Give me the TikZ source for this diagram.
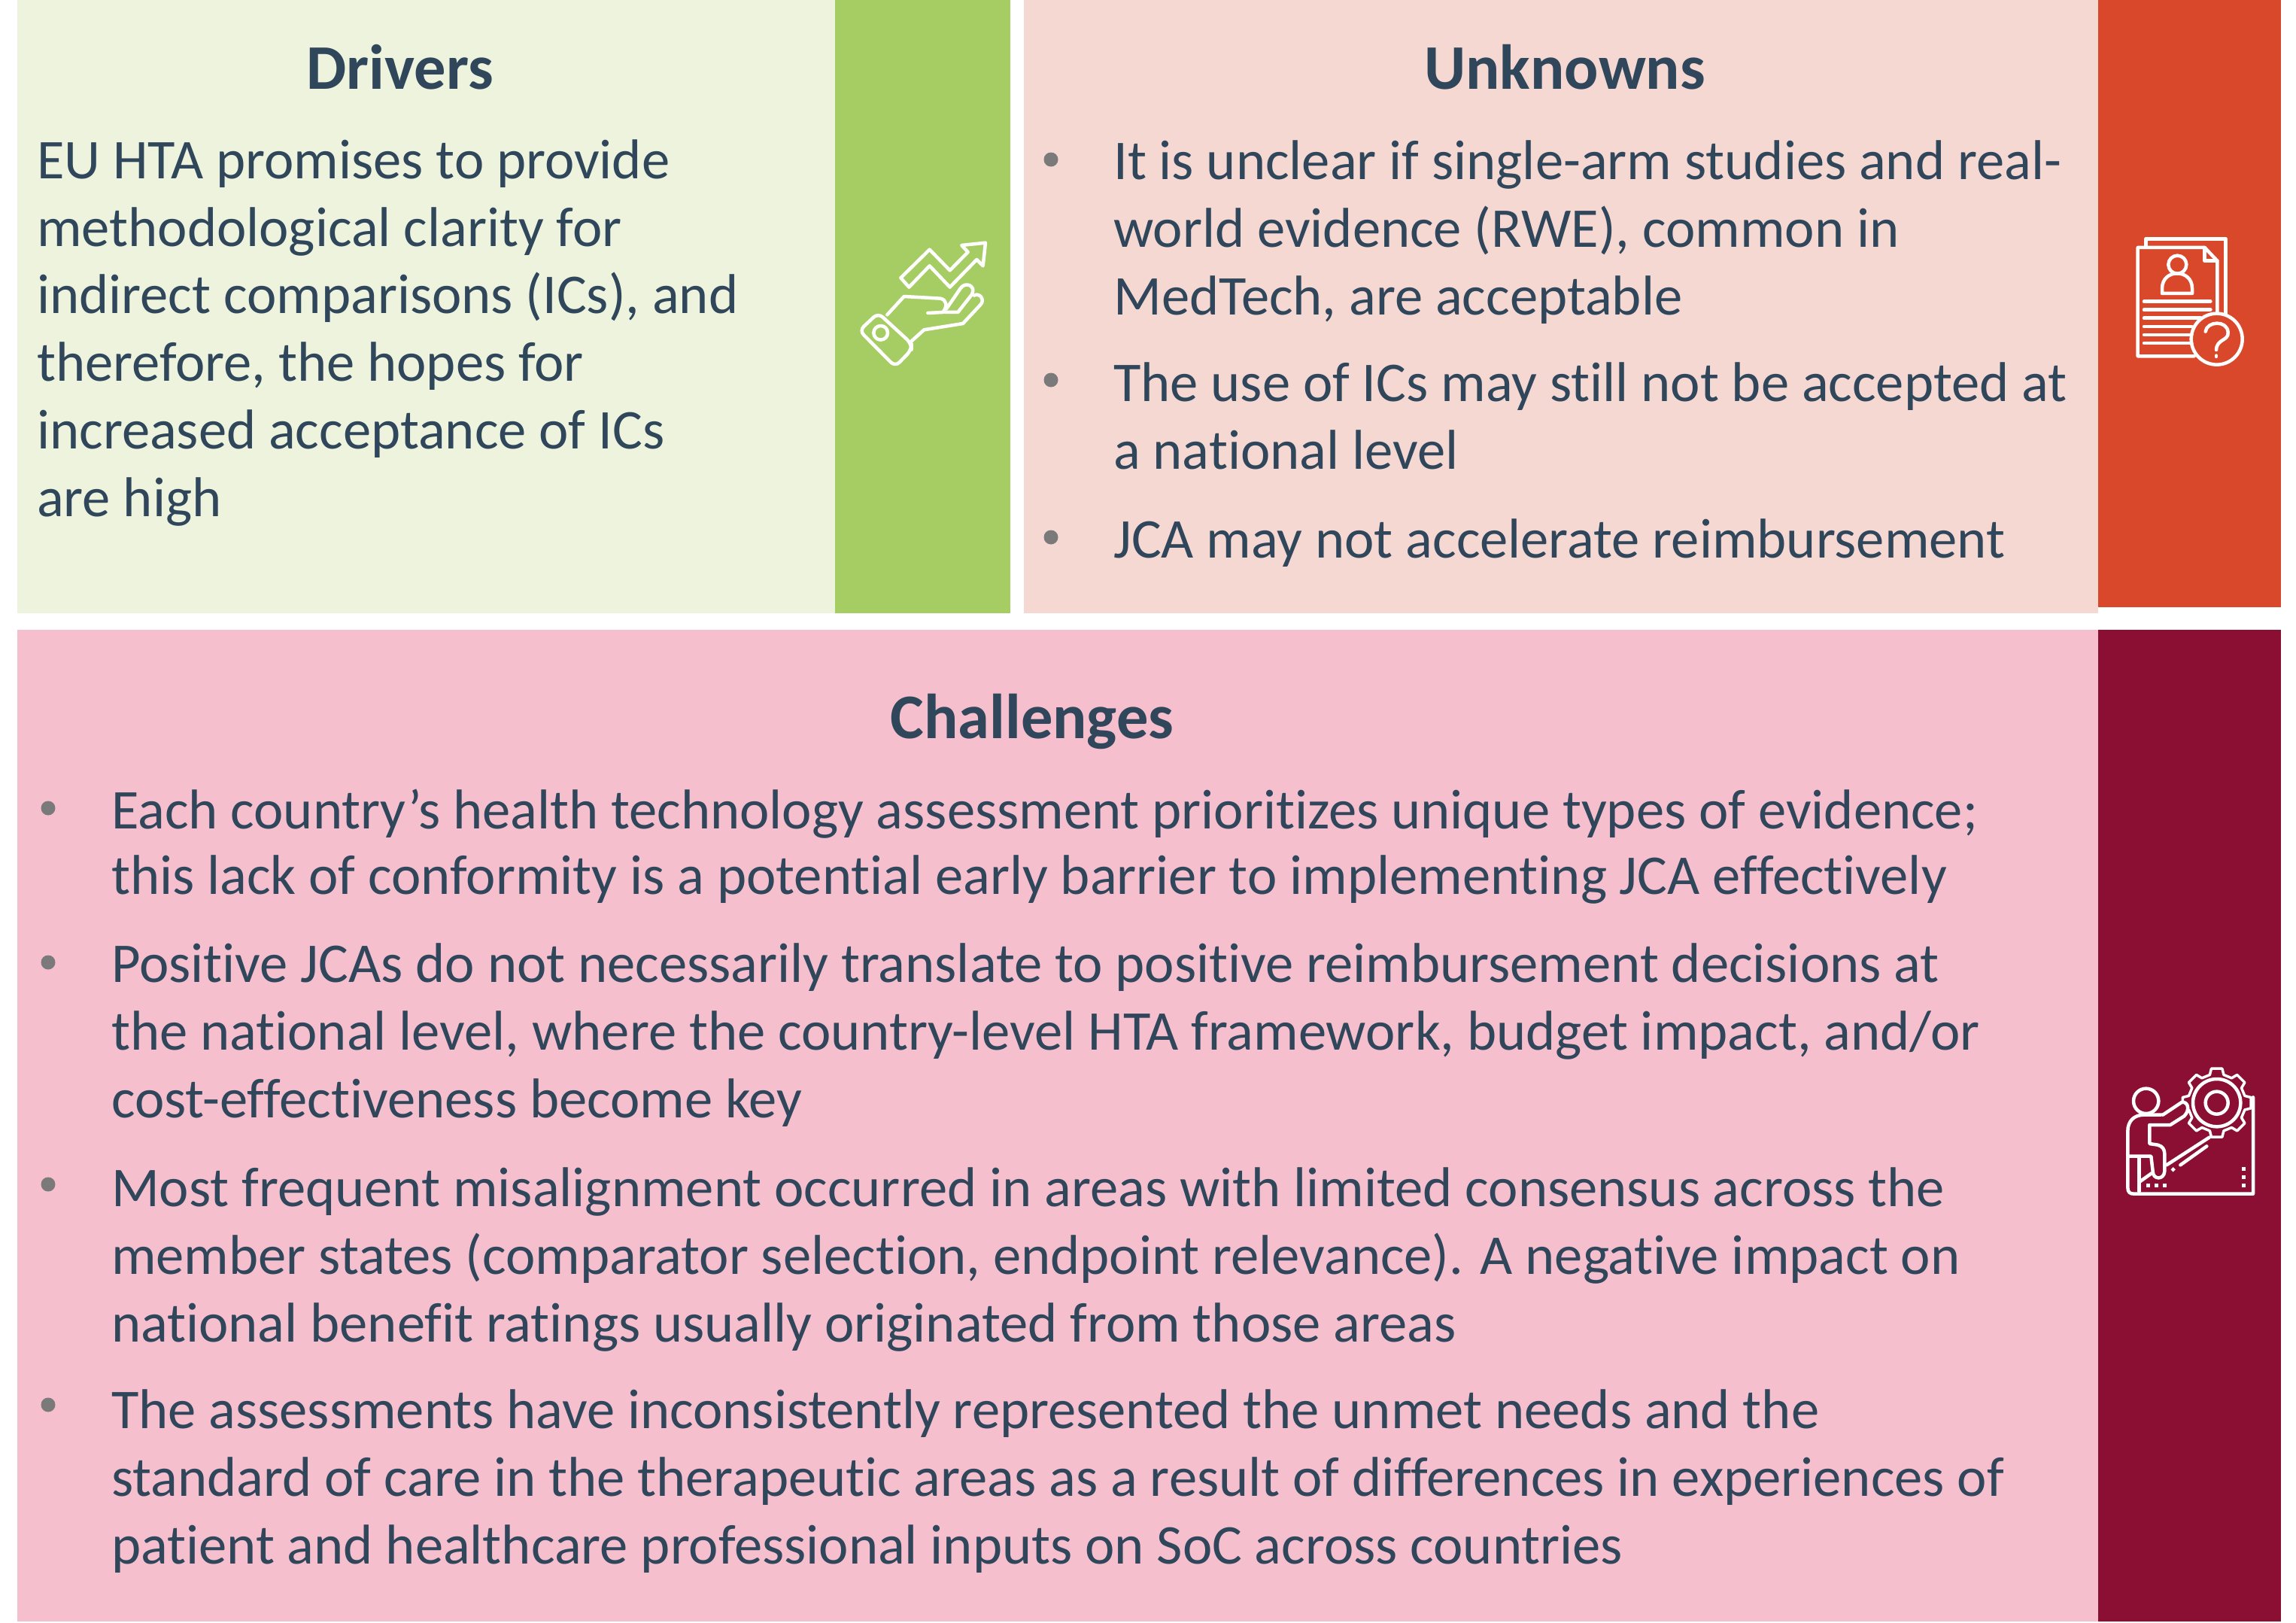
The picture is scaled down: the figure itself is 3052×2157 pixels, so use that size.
\documentclass[tikz,border=0pt]{standalone}
\usepackage{fontspec}
\setmainfont[Ligatures=NoCommon]{Carlito}
\usetikzlibrary{positioning}
\definecolor{txtcol}{HTML}{2F465B}
\definecolor{bulletcol}{HTML}{7A7A7A}
\definecolor{driverbg}{HTML}{EDF3DD}
\definecolor{driverbar}{HTML}{A6CD63}
\definecolor{unknownbg}{HTML}{F6D8D3}
\definecolor{unknownbar}{HTML}{D9482B}
\definecolor{challengebg}{HTML}{F6BFCD}
\definecolor{challengebar}{HTML}{8A0F32}
\tikzset{
  panel/.style={inner sep=0pt,outer sep=0pt,anchor=north west},
  head/.style={font=\fontsize{84.5}{84.5}\selectfont\bfseries,text=txtcol,inner sep=0pt,anchor=base},
  para/.style={font=\fontsize{74.6}{89.7}\selectfont,text=txtcol,inner sep=0pt,anchor=base west,align=left},
  dot/.style={circle,fill=bulletcol,inner sep=0pt,minimum size=19pt},
  icon/.style={draw=white,line width=4.5pt,line join=round,line cap=round},
  iconfill/.style={fill=white,inner sep=0pt},
}
\begin{document}
\begin{tikzpicture}[x=1pt,y=-1pt]
\useasboundingbox (0,0) rectangle (3052,2157);

% panels
\node (driverbg) at (23,0) [panel,fill=driverbg,minimum width=1087pt,minimum height=815pt] {};
\node (driverbar) at (1110,0) [panel,fill=driverbar,minimum width=233pt,minimum height=815pt] {};
\node (unknownbg) at (1361,0) [panel,fill=unknownbg,minimum width=1428pt,minimum height=815pt] {};
\node (unknownbar) at (2789,0) [panel,fill=unknownbar,minimum width=243pt,minimum height=807pt] {};
\node (challengebg) at (23,837) [panel,fill=challengebg,minimum width=2766pt,minimum height=1318pt] {};
\node (challengebar) at (2789,837) [panel,fill=challengebar,minimum width=243pt,minimum height=1318pt] {};

% drivers
\node (drivers) at (532,118) [head] {Drivers};
\node (drivertext) at (49,686) [para] {EU HTA promises to provide\\methodological clarity for\\indirect comparisons (ICs), and\\therefore, the hopes for\\increased acceptance of ICs\\are high};

% unknowns
\node (unknowns) at (2080,118) [head] {Unknowns};
\node (ubulleta) at (1397,212) [dot] {};
\node (utexta) at (1480,418) [para] {It is unclear if single-arm studies and real-\\world evidence (RWE), common in\\MedTech, are acceptable};
\node (ubulletb) at (1397,505) [dot] {};
\node (utextb) at (1480,623) [para] {The use of ICs may still not be accepted at\\a national level};
\node (ubulletc) at (1397,714) [dot] {};
\node (utextc) at (1480,741) [para] {JCA may not accelerate reimbursement};

% challenges
\node (challenges) at (1372,981) [head] {Challenges};
\node (cbulleta) at (64,1074) [dot] {};
\node (ctexta) at (148,1188) [para] {Each country’s health technology assessment prioritizes unique types of evidence;\\[-3pt]this lack of conformity is a potential early barrier to implementing JCA effectively};
\node (cbulletb) at (64,1279) [dot] {};
\node (ctextb) at (148,1485) [para] {Positive JCAs do not necessarily translate to positive reimbursement decisions at\\the national level, where the country-level HTA framework, budget impact, and/or\\cost-effectiveness become key};
\node (cbulletc) at (64,1574) [dot] {};
\node (ctextc) at (148,1783) [para] {Most frequent misalignment occurred in areas with limited consensus across the\\member states (comparator selection, endpoint relevance). A negative impact on\\national benefit ratings usually originated from those areas};
\node (cbulletd) at (64,1867) [dot] {};
\node (ctextd) at (148,2078) [para] {The assessments have inconsistently represented the unmet needs and the\\standard of care in the therapeutic areas as a result of differences in experiences of\\patient and healthcare professional inputs on SoC across countries};

% hand icon
\begin{scope}[shift={(1110,290)},x=0.3333pt,y=-0.3333pt]
  \draw[icon] (262,238) -- (377,125) -- (458,208) -- (530,135) -- (505,108) -- (600,98) -- (590,190) -- (565,165) -- (458,275) -- (377,190) -- (295,275) -- cycle;
  \draw[icon,rounded corners=8pt] (97,448) -- (172,378) -- (305,500) -- (305,525) -- (240,592) -- cycle;
  \draw[icon] (182,457) circle (28);
  \draw[icon] (208,385) -- (275,312) -- (420,320) .. controls (445,325) and (450,350) .. (430,375) -- (370,378);
  \draw[icon] (445,360) -- (500,280) .. controls (520,250) and (565,270) .. (545,305) -- (490,375) -- (440,375);
  \draw[icon] (555,308) .. controls (575,295) and (600,325) .. (580,345) -- (510,420) -- (355,445) -- (305,490);
\end{scope}

% document icon
\begin{scope}[shift={(2800,290)},x=0.3333pt,y=-0.3333pt]
  \draw[icon] (157,110) -- (157,82) -- (475,82) -- (475,380);
  \draw[icon] (442,380) -- (442,170) -- (392,117) -- (125,117) -- (125,550) -- (350,550);
  \draw[icon] (392,117) -- (392,170) -- (442,170);
  \draw[icon] (283,185) circle (36);
  \draw[icon] (222,300) -- (222,280) .. controls (222,200) and (342,200) .. (342,280) -- (342,300) -- cycle;
  \foreach \ly/\lx in {332/415,365/415,398/375,432/340,465/340,498/340}
    \draw[icon] (150,\ly) -- (\lx,\ly);
  \draw[icon] (440,482) circle (102);
  \draw[icon] (395,452) .. controls (400,410) and (482,405) .. (485,455) .. controls (488,490) and (440,480) .. (438,525);
  \draw[icon] (438,548) -- (438,552);
\end{scope}

% gear icon
\begin{scope}[shift={(2800,1400)},x=0.3333pt,y=-0.3333pt]
  \begin{scope}[shift={(440,197)}]
    \draw[icon,line width=3.5pt] (76:115) \foreach \a in {90,135,...,405} { -- (\a-14:115) -- (\a-9:138) -- (\a+9:138) -- (\a+14:115) } -- cycle;
    \draw[icon] (0,0) circle (95);
    \draw[icon] (0,0) circle (45);
  \end{scope}
  \draw[icon] (158,190) circle (50);
  \draw[icon] (225,245) -- (150,245) .. controls (110,245) and (85,270) .. (85,310) -- (85,535) .. controls (85,555) and (95,560) .. (110,560) -- (585,560) -- (585,175);
  \draw[icon,fill=challengebar] (225,245) -- (300,195) .. controls (325,190) and (335,225) .. (310,250) -- (255,285) -- (172,285) -- (172,360) -- (205,365) .. controls (225,370) and (232,385) .. (232,400) -- (232,470) .. controls (230,505) and (185,505) .. (185,470) -- (178,410) -- (90,410);
  \draw[icon] (130,415) -- (130,550);
  \draw[icon] (135,510) -- (180,478);
  \draw[icon] (240,445) -- (410,335);
  \draw[icon] (295,445) -- (400,370);
  \foreach \sx/\sy in {165/527,200/527,233/527,548/460,548/493,548/527}
    \node[iconfill,minimum size=5pt] (sq\sx\sy) at (\sx,\sy) {};
  \node[iconfill,minimum size=4.5pt,rotate=45] (sqdiamond) at (266,463) {};
\end{scope}
\end{tikzpicture}
\end{document}
